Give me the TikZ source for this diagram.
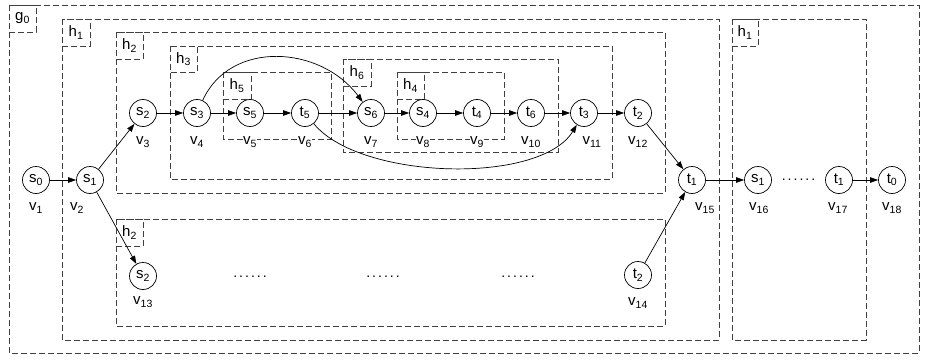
\documentclass[tikz,border=0pt]{standalone}
\usepackage{fontspec}
\setmainfont{Liberation Sans}
\usetikzlibrary{arrows.meta}
\newcommand{\lbl}[2]{#1\textsubscript{#2}}
\newcommand{\dotrow}{.\hspace{2pt}.\hspace{2pt}.\hspace{2pt}.\hspace{2pt}.\hspace{2pt}.}
\tikzset{
  grp/.style={draw=black!75, line width=0.7pt, dash pattern=on 6pt off 3pt},
  vert/.style={circle, draw, line width=0.7pt, fill=white, minimum size=27pt, inner sep=0pt, font=\fontsize{15}{17}\selectfont},
  vlab/.style={fill=white, inner sep=0.5pt, font=\fontsize{15}{17}\selectfont},
  glab/.style={inner sep=0pt, font=\fontsize{15}{17}\selectfont},
  dots/.style={inner sep=0pt, font=\fontsize{14}{16}\selectfont},
  edge/.style={-{Triangle[length=8pt,width=5.5pt]}, line width=0.7pt},
}
\begin{document}
\begin{tikzpicture}[x=1pt,y=-1pt]
\useasboundingbox (0,0) rectangle (937,361);
% group boxes with their label boxes
\draw[grp] (9,5) rectangle (919,353);   \draw[grp] (9,5) rectangle (36,32);
\draw[grp] (62,19) rectangle (719,340); \draw[grp] (62,19) rectangle (90,46);
\draw[grp] (116,32) rectangle (665,193); \draw[grp] (116,32) rectangle (143,59);
\draw[grp] (170,46) rectangle (612,179); \draw[grp] (170,46) rectangle (197,72);
\draw[grp] (223,72) rectangle (331,139); \draw[grp] (223,72) rectangle (251,99);
\draw[grp] (343,59) rectangle (558,152); \draw[grp] (343,59) rectangle (371,86);
\draw[grp] (397,72) rectangle (504,139); \draw[grp] (397,72) rectangle (424,99);
\draw[grp] (116,219) rectangle (665,326); \draw[grp] (116,219) rectangle (143,246);
\draw[grp] (732,19) rectangle (866,340); \draw[grp] (732,19) rectangle (758,46);
\node[glab] (lg0) at (22.5,18.5) {\lbl{g}{0}};
\node[glab] (lh1a) at (76,32.5) {\lbl{h}{1}};
\node[glab] (lh2a) at (129.5,45.5) {\lbl{h}{2}};
\node[glab] (lh3) at (183.5,59) {\lbl{h}{3}};
\node[glab] (lh5) at (237,85.5) {\lbl{h}{5}};
\node[glab] (lh6) at (357,72.5) {\lbl{h}{6}};
\node[glab] (lh4) at (410.5,85.5) {\lbl{h}{4}};
\node[glab] (lh2b) at (129.5,232.5) {\lbl{h}{2}};
\node[glab] (lh1b) at (745,32.5) {\lbl{h}{1}};
% vertex labels
\node[vlab] (v1) at (36,208) {\lbl{v}{1}};
\node[vlab] (v2) at (77,208) {\lbl{v}{2}};
\node[vlab] (v3) at (143,142) {\lbl{v}{3}};
\node[vlab] (v4) at (197,142) {\lbl{v}{4}};
\node[vlab] (v5) at (250,142) {\lbl{v}{5}};
\node[vlab] (v6) at (305,142) {\lbl{v}{6}};
\node[vlab] (v7) at (371,142) {\lbl{v}{7}};
\node[vlab] (v8) at (423,142) {\lbl{v}{8}};
\node[vlab] (v9) at (477,142) {\lbl{v}{9}};
\node[vlab] (v10) at (531,142) {\lbl{v}{10}};
\node[vlab] (v11) at (592,142) {\lbl{v}{11}};
\node[vlab] (v12) at (638,142) {\lbl{v}{12}};
\node[vlab] (v13) at (143,302) {\lbl{v}{13}};
\node[vlab] (v14) at (638,303) {\lbl{v}{14}};
\node[vlab] (v15) at (705,208) {\lbl{v}{15}};
\node[vlab] (v16) at (759,208) {\lbl{v}{16}};
\node[vlab] (v17) at (838,208) {\lbl{v}{17}};
\node[vlab] (v18) at (892,208) {\lbl{v}{18}};
% vertices
\node[vert] (s0) at (36,180) {\lbl{s}{0}};
\node[vert] (s1) at (90,180) {\lbl{s}{1}};
\node[vert] (s2) at (143,113) {\lbl{s}{2}};
\node[vert] (s3) at (197,113) {\lbl{s}{3}};
\node[vert] (s5) at (250,113) {\lbl{s}{5}};
\node[vert] (t5) at (305,113) {\lbl{t}{5}};
\node[vert] (s6) at (371,113) {\lbl{s}{6}};
\node[vert] (s4) at (423,113) {\lbl{s}{4}};
\node[vert] (t4) at (477,113) {\lbl{t}{4}};
\node[vert] (t6) at (531,113) {\lbl{t}{6}};
\node[vert] (t3) at (584,113) {\lbl{t}{3}};
\node[vert] (t2) at (638,113) {\lbl{t}{2}};
\node[vert] (t1) at (692,180) {\lbl{t}{1}};
\node[vert] (s1b) at (758,180) {\lbl{s}{1}};
\node[vert] (t1b) at (839,180) {\lbl{t}{1}};
\node[vert] (t0) at (892,180) {\lbl{t}{0}};
\node[vert] (s2b) at (143,276) {\lbl{s}{2}};
\node[vert] (t2b) at (638,275) {\lbl{t}{2}};
% dots
\node[dots] (d1) at (798.5,180) {\dotrow};
\node[dots] (d2) at (250,277) {\dotrow};
\node[dots] (d3) at (383,277) {\dotrow};
\node[dots] (d4) at (518,277) {\dotrow};
% edges
\draw[edge] (s0) -- (s1);
\draw[edge] (s1) -- (s2);
\draw[edge] (s1) -- (s2b);
\draw[edge] (s2) -- (s3);
\draw[edge] (s3) -- (s5);
\draw[edge] (s5) -- (t5);
\draw[edge] (t5) -- (s6);
\draw[edge] (s6) -- (s4);
\draw[edge] (s4) -- (t4);
\draw[edge] (t4) -- (t6);
\draw[edge] (t6) -- (t3);
\draw[edge] (t3) -- (t2);
\draw[edge] (t2) -- (t1);
\draw[edge] (t2b) -- (t1);
\draw[edge] (t1) -- (s1b);
\draw[edge] (t1b) -- (t0);
\draw[edge] (s3) .. controls (230,40) and (320,45) .. (s6);
\draw[edge] (t5) .. controls (360,180) and (540,185) .. (t3);
\end{tikzpicture}
\end{document}
